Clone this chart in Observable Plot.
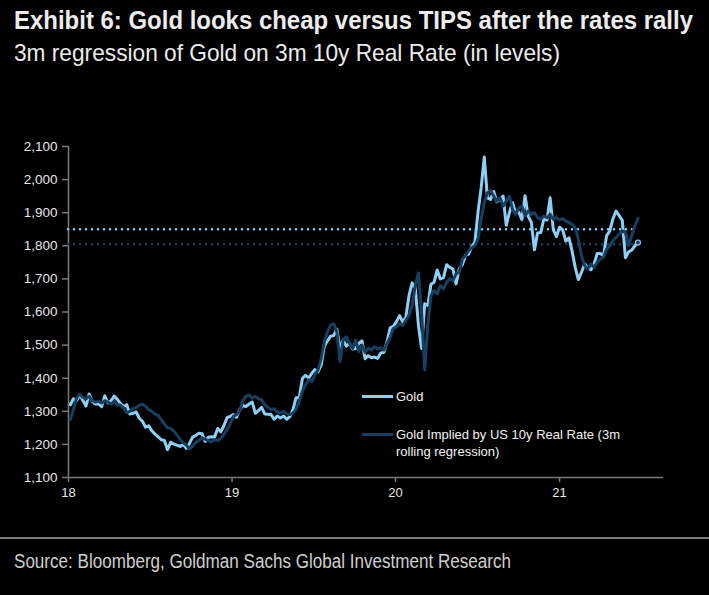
<!DOCTYPE html>
<html><head><meta charset="utf-8">
<script src="https://cdn.jsdelivr.net/npm/d3@7"></script>
<script src="https://cdn.jsdelivr.net/npm/@observablehq/plot@0.6"></script>
<style>
html,body{margin:0;padding:0;background:#000;}
#wrap{position:relative;width:709px;height:595px;background:#000;overflow:hidden;}
.fit{position:absolute;left:14px;font-family:"Liberation Sans",Arial,sans-serif;white-space:nowrap;transform-origin:0 0;}
#title{top:5px;font-weight:bold;font-size:26px;color:#ececec;}
#subtitle{top:39px;font-size:24px;color:#ececec;}
#chart{position:absolute;left:0;top:80px;}
.leg{position:absolute;font-family:"Liberation Sans",Arial,sans-serif;font-size:13px;color:#f2f2f2;line-height:17px;white-space:nowrap;}
.sw{position:absolute;height:3px;width:31px;}
#rule{position:absolute;left:0;top:537px;width:709px;height:2px;background:#7a7a7a;}
#source{top:550px;font-size:20px;color:#cfcfcf;}
</style></head>
<body>
<div id="wrap">
  <div id="title" class="fit" data-w="679">Exhibit 6: Gold looks cheap versus TIPS after the rates rally</div>
  <div id="subtitle" class="fit" data-w="546">3m regression of Gold on 3m 10y Real Rate (in levels)</div>
  <div id="chart"></div>
  <div class="sw" style="left:362px;top:395px;background:#8ecff5"></div>
  <div class="leg" style="left:396px;top:388px">Gold</div>
  <div class="sw" style="left:362px;top:433px;background:#173f5f"></div>
  <div class="leg" style="left:396px;top:426px">Gold Implied by US 10y Real Rate (3m<br>rolling regression)</div>
  <div id="rule"></div>
  <div id="source" class="fit" data-w="497">Source: Bloomberg, Goldman Sachs Global Investment Research</div>
</div>
<script>
// Weekly observations starting 2018-01-05
const seriesStart = "2018-01-05";
const gold = [
 1320,1338,1332,1350,1333,1316,1352,1330,1322,1323,1314,1347,1325,1332,1346,1336,1323,1314,1320,1292,
 1294,1298,1279,1270,1252,1256,1241,1231,1223,1214,1212,1184,1206,1201,1198,1194,1200,1188,1203,1222,1227,1234,1232,1209,1222,1223,1222,1248,1238,1257,1281,
 1285,1290,1282,1304,1318,1314,1322,1328,1294,
 1302,1312,1292,1291,1290,1276,1286,1280,1286,1276,1284,1305,1341,1341,1399,1409,1400,1415,1426,1419,1440,1497,1513,1527,1529,1548,1488,1516,1497,1505,1488,1490,1505,1513,1459,1468,1462,1464,1460,1476,1478,1510,1552,
 1557,1571,1589,1570,1584,1650,1688,1672,1560,1490,1625,1620,1684,1690,1727,1700,1704,1743,1735,1730,1685,1730,1743,1771,1775,1798,1810,1902,1975,2068,1945,1940,1964,1933,1940,1950,1862,1900,1930,1899,1902,1879,1951,1889,1871,1788,1839,1840,1881,1878,1945,1849,1828,1856,1848,1814,1824,1784,1734,1698,1720,1745,1733,1728,1744,1777,1777,1769,1831,1844,1881,1905,1891,1877,1764,1781,1787,1800,1810
];
const implied = [
 1275,1305,1340,1352,1342,1338,1345,1332,1328,1330,
 1325,1332,1328,1322,1330,1320,1318,1310,1296,1300,
 1308,1312,1318,1322,1315,1305,1300,1292,1288,1275,
 1262,1250,1248,1240,1228,1215,1205,1198,1186,1195,
 1205,1212,1220,1215,1212,1208,1214,1212,1218,1230,
 1245,1262,1285,1290,1300,1332,1345,1350,1340,1345,
 1338,1335,1320,1312,1305,1308,1298,1295,1300,1293,
 1290,1295,1305,1330,1360,1380,1395,1390,1410,1425,
 1460,1510,1540,1560,1565,1540,1450,1515,1525,1505,
 1490,1515,1480,1500,1478,1490,1485,1495,1488,1492,
 1485,1505,1525,1550,1555,1565,1560,1575,1590,1620,
 1680,1718,1600,1425,1560,1650,1665,1655,1680,1670,
 1690,1700,1695,1715,1720,1760,1770,1785,1795,1800,
 1820,1880,1930,1960,1968,1950,1935,1945,1920,1935,
 1950,1910,1895,1915,1920,1890,1905,1895,1900,1885,
 1880,1890,1885,1895,1880,1885,1878,1882,1875,1870,
 1865,1855,1820,1770,1740,1730,1745,1735,1750,1760,
 1765,1790,1800,1815,1825,1835,1845,1840,1800,1830,
 1860,1882
];
const levelGold = 1850;
const levelImplied = 1805;
const yTicks = [1100,1200,1300,1400,1500,1600,1700,1800,1900,2000,2100];
const xTickYears = ["2018","2019","2020","2021"];
const xDomainText = ["2018-01-01","2021-08-21"];

const goldColor = "#8ecff5";
const impliedColor = "#173f5f";
const axisColor = "#7a7a7a";

const t0 = new Date(seriesStart + "T00:00:00Z");
const rows = gold.map((g, i) => ({date: d3.utcDay.offset(t0, 7 * i), gold: g, implied: implied[i]}));
const lastDate = rows[rows.length - 1].date;
const xDomain = xDomainText.map(s => new Date(s + "T00:00:00Z"));
const xTicks = xTickYears.map(s => new Date(s + "-01-01T00:00:00Z"));
const levels = [
  {y: levelGold, x1: xDomain[0], x2: lastDate, c: goldColor},
  {y: levelImplied, x1: xDomain[0], x2: lastDate, c: impliedColor}
];

const chart = Plot.plot({
  width: 709, height: 440,
  marginTop: 66, marginBottom: 43, marginLeft: 68, marginRight: 46,
  style: {background: "#000", color: "#e6e6e6", fontFamily: "'Liberation Sans', Arial, sans-serif", fontSize: "13.5px"},
  x: {type: "utc", domain: xDomain},
  y: {domain: [1100, 2100]},
  marks: [
    Plot.axisY({ticks: yTicks, tickFormat: d3.format(","), tickSize: 6, tickPadding: 5, stroke: axisColor, fill: "#e6e6e6", label: null, strokeWidth: 1.5}),
    Plot.axisX({ticks: xTicks, tickFormat: d3.utcFormat("%y"), tickSize: 5, tickPadding: 5, stroke: axisColor, fill: "#e6e6e6", label: null, strokeWidth: 1.5, fontSize: 13}),
    Plot.ruleY([1100], {stroke: axisColor, strokeWidth: 1.5}),
    Plot.ruleX([xDomain[0]], {stroke: axisColor, strokeWidth: 1.5}),
    Plot.ruleY(levels, {y: "y", x1: "x1", x2: "x2", stroke: "c", strokeWidth: 2.5, strokeDasharray: "0,6", strokeLinecap: "round"}),
    Plot.line(rows, {x: "date", y: "gold", stroke: goldColor, strokeWidth: 3, strokeLinejoin: "round"}),
    Plot.line(rows, {x: "date", y: "implied", stroke: impliedColor, strokeWidth: 3, strokeLinejoin: "round"}),
    Plot.dot(rows.slice(-1), {x: "date", y: "gold", r: 2.5, stroke: goldColor, fill: impliedColor, strokeWidth: 1.2})
  ]
});
document.getElementById("chart").appendChild(chart);

// Condense headline texts to the reference's narrow type widths
document.querySelectorAll(".fit").forEach(el => {
  const w = el.getBoundingClientRect().width;
  const target = +el.dataset.w;
  el.style.transform = `scaleX(${target / w})`;
});
</script>
</body></html>
